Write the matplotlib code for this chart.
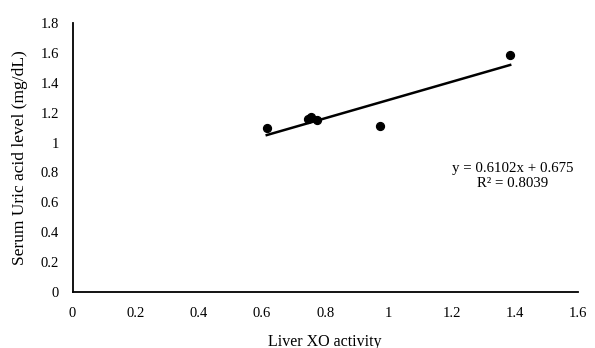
import matplotlib.pyplot as plt
import numpy as np

plt.rcParams['font.family'] = ['Liberation Serif', 'DejaVu Serif']

# liver XO activity vs serum uric acid
xo_activity = [0.615, 0.745, 0.755, 0.775, 0.974, 1.386]
uric_acid = [1.096, 1.160, 1.170, 1.150, 1.111, 1.588]

slope = 0.6102
intercept = 0.675
eq_text = "y = 0.6102x + 0.675\nR² = 0.8039"

x_ticks = [0, 0.2, 0.4, 0.6, 0.8, 1, 1.2, 1.4, 1.6]
y_ticks = [0, 0.2, 0.4, 0.6, 0.8, 1, 1.2, 1.4, 1.6, 1.8]

fig = plt.figure(figsize=(5.95, 3.48), dpi=100)
ax = fig.add_axes([0.122, 0.162, 0.849, 0.771])

ax.scatter(xo_activity, uric_acid, s=32, color='black', zorder=3)

# linear trendline over the data range
xl = np.array([min(xo_activity), max(xo_activity)])
ax.plot(xl, slope * xl + intercept, color='black', lw=1.8, zorder=2)

ax.text(1.395, 0.775, eq_text, ha='center', va='center', fontsize=10.7, linespacing=1.2)

ax.set_xlim(0, 1.6)
ax.set_ylim(0, 1.8)
ax.set_xticks(x_ticks)
ax.set_yticks(y_ticks)
ax.set_xticklabels([f"{t:g}" for t in x_ticks])
ax.set_yticklabels([f"{t:g}" for t in y_ticks])
ax.tick_params(length=0, labelsize=10.5)
ax.tick_params(axis='x', pad=11)
ax.tick_params(axis='y', pad=10)

for s in ['top', 'right']:
    ax.spines[s].set_visible(False)
for s in ['left', 'bottom']:
    ax.spines[s].set_linewidth(1.3)
    ax.spines[s].set_color('black')

ax.set_xlabel('Liver XO activity', fontsize=11.5, labelpad=10)
ax.set_ylabel('Serum Uric acid level (mg/dL)', fontsize=12.5, labelpad=9)

fig.savefig('out.png', dpi=100)
